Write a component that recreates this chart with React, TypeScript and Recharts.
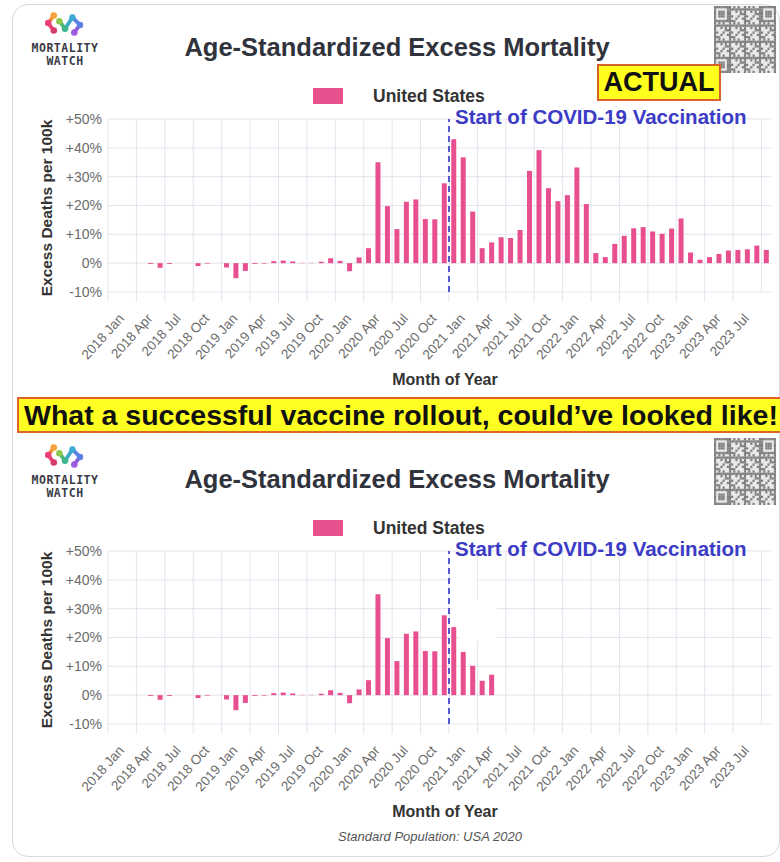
import * as React from "react"
import { Bar, BarChart, CartesianGrid, ReferenceLine, XAxis, YAxis } from "recharts"

// months shown: 2018 Jan .. 2023 Oct
const years = [2018, 2019, 2020, 2021, 2022, 2023]
const monthNames = ["Jan", "Feb", "Mar", "Apr", "May", "Jun", "Jul", "Aug", "Sep", "Oct", "Nov", "Dec"]
const months = years.flatMap((y) => monthNames.map((m) => `${y} ${m}`)).slice(0, 70)

const tickLabels = [
  "2018 Jan", "2018 Apr", "2018 Jul", "2018 Oct",
  "2019 Jan", "2019 Apr", "2019 Jul", "2019 Oct",
  "2020 Jan", "2020 Apr", "2020 Jul", "2020 Oct",
  "2021 Jan", "2021 Apr", "2021 Jul", "2021 Oct",
  "2022 Jan", "2022 Apr", "2022 Jul", "2022 Oct",
  "2023 Jan", "2023 Apr", "2023 Jul",
]
const yTicks = [-10, 0, 10, 20, 30, 40, 50]

// excess deaths per 100k, % vs baseline
const actualValues = [
  0, 0, 0, 0, -0.3, -1.6, -0.3, 0, 0, -1.0, -0.2, 0,
  -1.5, -5.2, -2.7, -0.3, -0.2, 0.7, 0.9, 0.6, 0.1, 0.1, 0.5, 1.7,
  0.8, -2.8, 2.0, 5.2, 35.0, 19.8, 11.8, 21.3, 22.1, 15.3, 15.2, 27.7,
  43.0, 36.7, 17.9, 5.2, 7.2, 9.0, 8.7, 11.5, 32.0, 39.2, 26.0, 21.5,
  23.6, 33.2, 20.5, 3.5, 2.1, 6.7, 9.5, 12.1, 12.5, 11.0, 10.2, 12.0,
  15.5, 3.7, 1.2, 2.1, 3.2, 4.4, 4.6, 4.8, 6.1, 4.6,
]

// the edited "what if" version stops in 2021 May
const rolloutValues = [
  0, 0, 0, 0, -0.3, -1.6, -0.3, 0, 0, -1.0, -0.2, 0,
  -1.5, -5.2, -2.7, -0.3, -0.2, 0.7, 0.9, 0.6, 0.1, 0.1, 0.5, 1.7,
  0.8, -2.8, 2.0, 5.2, 35.0, 19.8, 11.8, 21.3, 22.1, 15.3, 15.2, 27.7,
  23.6, 15.0, 10.2, 5.0, 7.1,
]

const vaccinationStart = "2021 Jan"

const BAR_COLOR = "#e84f8f"
const GRID_COLOR = "#e4e4ee"
const VAX_COLOR = "#3b3bc6"
const FONT = "'Liberation Sans', Arial, Helvetica, sans-serif"

const formatPct = (v: number) => (v > 0 ? `+${v}%` : `${v}%`)

// rotated month label plus the short grid tick under the band edge
const MonthTick = ({ x, y, payload }: any) => {
  const tx = x + 12
  const ty = y + 25
  const edge = x - (payload.offset ?? 0)
  return (
    <g>
      <line x1={edge} y1={y - 2} x2={edge} y2={y + 8} stroke={GRID_COLOR} />
      <text
        x={tx}
        y={ty}
        transform={`rotate(-48, ${tx}, ${ty})`}
        textAnchor="end"
        fontSize={13.5}
        fill="#6b6b6b"
        fontFamily={FONT}
      >
        {payload.value}
      </text>
    </g>
  )
}

const VaxLabel = ({ viewBox }: any) => (
  <text x={viewBox.x + 6} y={viewBox.y + 5} fill={VAX_COLOR} fontSize={20.5} fontWeight="bold" fontFamily={FONT}>
    Start of COVID-19 Vaccination
  </text>
)

const Logo = () => (
  <div style={{ position: "absolute", left: 22, top: 10, width: 86, textAlign: "center" }}>
    <svg width={42} height={28} viewBox="0 0 44 30" style={{ display: "block", margin: "0 auto" }}>
      <g strokeWidth={4} strokeLinecap="round" fill="none">
        <line x1={10} y1={6} x2={4} y2={14} stroke="#f08a3c" />
        <line x1={4} y1={14} x2={10} y2={22} stroke="#e9407a" />
        <line x1={16} y1={12} x2={22} y2={20} stroke="#4fb86a" />
        <line x1={22} y1={20} x2={30} y2={8} stroke="#3aa6c8" />
        <line x1={30} y1={8} x2={38} y2={16} stroke="#5a7de0" />
        <line x1={38} y1={16} x2={32} y2={24} stroke="#8a5ad8" />
      </g>
      <circle cx={10} cy={6} r={3.5} fill="#f7a23a" />
      <circle cx={4} cy={14} r={3.5} fill="#e9407a" />
      <circle cx={10} cy={22} r={3.5} fill="#d93a6a" />
      <circle cx={16} cy={12} r={3.5} fill="#8cc94f" />
      <circle cx={22} cy={20} r={3.5} fill="#3fb38c" />
      <circle cx={30} cy={8} r={3.5} fill="#41a9d6" />
      <circle cx={38} cy={16} r={3.5} fill="#5c7fe4" />
      <circle cx={32} cy={24} r={3.5} fill="#9a5be0" />
    </svg>
    <div style={{ fontFamily: "'DejaVu Sans Mono', monospace", fontWeight: "bold", fontSize: 11.5, lineHeight: "13px", color: "#3a3a44", marginTop: 4, letterSpacing: 0.5 }}>
      MORTALITY
      <br />
      WATCH
    </div>
  </div>
)

// decorative QR-like block
const QrBlock = () => {
  const n = 29
  const cell = 2
  const cells: React.ReactNode[] = []
  for (let r = 0; r < n; r++) {
    for (let c = 0; c < n; c++) {
      const finder = (r < 7 && c < 7) || (r < 7 && c >= n - 7) || (r >= n - 7 && c < 7)
      let on = ((r * 7 + c * 11 + r * c * 3) % 7) < 3
      if (finder) {
        const rr = r >= n - 7 ? r - (n - 7) : r
        const cc = c >= n - 7 ? c - (n - 7) : c
        const ring = Math.max(Math.abs(rr - 3), Math.abs(cc - 3))
        on = ring !== 2
      }
      if (on) cells.push(<rect key={`${r}-${c}`} x={c * cell} y={r * cell} width={cell} height={cell} fill="#555" />)
    }
  }
  return (
    <svg width={62} height={67} viewBox={`0 0 ${n * cell} ${n * cell}`} preserveAspectRatio="none" style={{ position: "absolute", left: 714, top: 6, opacity: 0.75 }}>
      <rect width={n * cell} height={n * cell} fill="#e4e4e4" />
      {cells}
    </svg>
  )
}

interface PanelProps {
  top: number
  values: number[]
  actual?: boolean
  footnote?: string
}

const Panel = ({ top, values, actual, footnote }: PanelProps) => {
  const data = months.map((month, i) => ({ month, value: values[i] ?? null }))

  return (
    <div style={{ position: "absolute", left: 0, top, width: 780, height: 430 }}>
      <Logo />
      <div style={{ position: "absolute", left: 14, width: 766, top: 31, textAlign: "center", fontSize: 25.5, fontWeight: "bold", color: "#30333c", lineHeight: "32px" }}>
        Age-Standardized Excess Mortality
      </div>
      <QrBlock />
      {actual && (
        <div style={{ position: "absolute", left: 597, top: 64, width: 120, height: 33, background: "#ffff1e", border: "2px solid #d8622c", textAlign: "center", fontSize: 27, fontWeight: "bold", lineHeight: "33px", color: "#111" }}>
          ACTUAL
        </div>
      )}
      <div style={{ position: "absolute", left: 313, top: 88, width: 30, height: 16, background: BAR_COLOR }} />
      <div style={{ position: "absolute", left: 373, top: 85, fontSize: 17.5, fontWeight: "bold", color: "#333", lineHeight: "22px" }}>
        United States
      </div>

      <div style={{ position: "absolute", left: 0, top: 0 }}>
        <BarChart width={780} height={400} data={data} margin={{ top: 119, right: 9, bottom: 38, left: 48 }} barCategoryGap="24%">
          <CartesianGrid
            stroke={GRID_COLOR}
            verticalCoordinatesGenerator={({ offset }: any) =>
              months.map((_, i) => i).filter((i) => i % 3 === 0).map((i) => offset.left + (i * offset.width) / months.length)
            }
          />
          <XAxis
            dataKey="month"
            ticks={tickLabels}
            interval={0}
            tickLine={false}
            axisLine={false}
            tickSize={0}
            height={70}
            tick={<MonthTick />}
          />
          <YAxis
            domain={[-10, 50]}
            ticks={yTicks}
            tickFormatter={formatPct}
            tickLine={false}
            axisLine={false}
            tickSize={0}
            tickMargin={6}
            width={60}
            tick={{ fontSize: 14, fill: "#6b6b6b", fontFamily: FONT }}
          />
          <ReferenceLine
            x={vaccinationStart}
            position="start"
            stroke="#5656d4"
            strokeWidth={2}
            strokeDasharray="6 4"
            label={<VaxLabel />}
          />
          <Bar dataKey="value" fill={BAR_COLOR} isAnimationActive={false} />
        </BarChart>
      </div>

      {!actual && (
        <>
          {/* erased area left over from the edit in the original image */}
          <div style={{ position: "absolute", left: 452, top: 126, width: 25, height: 64, background: "#fff" }} />
          <div style={{ position: "absolute", left: 460, top: 168, width: 37, height: 41, background: "#fff" }} />
        </>
      )}

      <div style={{ position: "absolute", left: 47 - 110, top: 208 - 10, width: 220, textAlign: "center", transform: "rotate(-90deg)", fontSize: 15.5, fontWeight: "bold", color: "#333", lineHeight: "20px" }}>
        Excess Deaths per 100k
      </div>
      <div style={{ position: "absolute", left: 345, width: 200, top: 369, textAlign: "center", fontSize: 16, fontWeight: "bold", color: "#333", lineHeight: "22px" }}>
        Month of Year
      </div>
      {footnote && (
        <div style={{ position: "absolute", left: 330, width: 200, top: 396, textAlign: "center", fontSize: 13, fontStyle: "italic", color: "#555", lineHeight: "18px" }}>
          {footnote}
        </div>
      )}
    </div>
  )
}

export default function App() {
  return (
    <div style={{ position: "absolute", left: 0, top: 0, width: 780, height: 862, overflow: "hidden", background: "#fff", fontFamily: FONT }}>
      <div style={{ position: "absolute", left: 12, top: 4, width: 766, height: 851, border: "1px solid #d8d8d8", borderRadius: 16 }} />
      <Panel top={0} values={actualValues} actual />
      <div style={{ position: "absolute", left: 17, top: 397, width: 780, height: 32, background: "#ffff22", border: "2px solid #e0642a", fontSize: 28.5, fontWeight: "bold", color: "#111", lineHeight: "32px", paddingLeft: 5, whiteSpace: "nowrap" }}>
        What a successful vaccine rollout, could’ve looked like!
      </div>
      <Panel top={432} values={rolloutValues} footnote="Standard Population: USA 2020" />
    </div>
  )
}
